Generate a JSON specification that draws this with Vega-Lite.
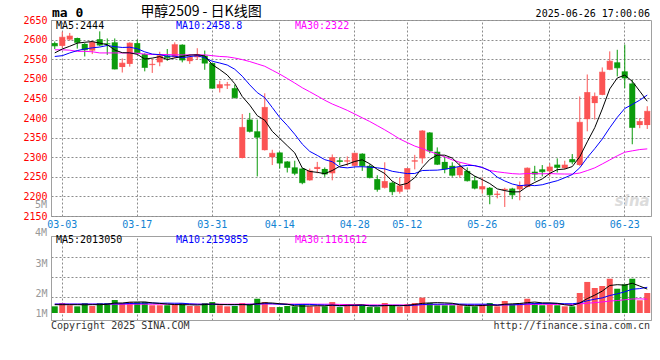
{
  "$schema": "https://vega.github.io/schema/vega-lite/v6.json",
  "background": "#ffffff",
  "autosize": {"type": "pad"},
  "padding": {"left": 22, "top": 4, "right": 10, "bottom": 0},
  "bounds": "flush",
  "spacing": 20,
  "config": {
    "view": {"stroke": "#a0a0a0", "strokeWidth": 1},
    "axis": {"labelFont": "DejaVu Sans Mono", "labelFontSize": 10, "domainColor": "#a0a0a0", "grid": false, "labelOverlap": false, "title": null, "ticks": true, "tickColor": "#8c8c8c", "tickDash": [2, 2], "tickWidth": 1},
    "text": {"font": "DejaVu Sans Mono", "fontSize": 10, "baseline": "middle"}
  },
  "datasets": {
    "k": [
      {"d":"02-28","o":2591,"h":2595,"l":2576,"c":2584,"v":560000,"m5":2566,"m10":2557,"m30":2574,"vm5":700000,"vm10":750000,"vm30":740000},
      {"d":"03-03","o":2584,"h":2620,"l":2579,"c":2606,"v":840000,"m5":2576,"m10":2559,"m30":2574,"vm5":700000,"vm10":750000,"vm30":740000},
      {"d":"03-04","o":2600,"h":2617,"l":2597,"c":2609,"v":650000,"m5":2583,"m10":2566,"m30":2573,"vm5":700000,"vm10":750000,"vm30":740000},
      {"d":"03-05","o":2604,"h":2605,"l":2577,"c":2593,"v":560000,"m5":2591,"m10":2572,"m30":2570,"vm5":700000,"vm10":750000,"vm30":740000},
      {"d":"03-06","o":2589,"h":2591,"l":2557,"c":2574,"v":840000,"m5":2593.2,"m10":2576,"m30":2570,"vm5":690000,"vm10":750000,"vm30":740000},
      {"d":"03-07","o":2572,"h":2596,"l":2563,"c":2593,"v":590000,"m5":2595,"m10":2579,"m30":2569,"vm5":700000,"vm10":750000,"vm30":740000},
      {"d":"03-10","o":2601,"h":2621,"l":2583,"c":2586,"v":840000,"m5":2591,"m10":2581,"m30":2566,"vm5":700000,"vm10":750000,"vm30":740000},
      {"d":"03-11","o":2590,"h":2603,"l":2561,"c":2589,"v":840000,"m5":2587,"m10":2585,"m30":2566,"vm5":730000,"vm10":760000,"vm30":740000},
      {"d":"03-12","o":2593,"h":2603,"l":2524,"c":2525,"v":1090000,"m5":2573.4,"m10":2582,"m30":2566,"vm5":840000,"vm10":770000,"vm30":740000},
      {"d":"03-13","o":2530,"h":2552,"l":2516,"c":2540,"v":840000,"m5":2566.6,"m10":2579.9,"m30":2566,"vm5":840000,"vm10":770000,"vm30":740000},
      {"d":"03-14","o":2538,"h":2593,"l":2531,"c":2591,"v":920000,"m5":2566.2,"m10":2580.6,"m30":2566,"vm5":910000,"vm10":800000,"vm30":740000},
      {"d":"03-17","o":2591,"h":2600,"l":2565,"c":2567,"v":900000,"m5":2562.4,"m10":2576.7,"m30":2565,"vm5":920000,"vm10":810000,"vm30":740000},
      {"d":"03-18","o":2563,"h":2565,"l":2519,"c":2529,"v":920000,"m5":2550.4,"m10":2568.7,"m30":2563,"vm5":930000,"vm10":830000,"vm30":740000},
      {"d":"03-19","o":2535,"h":2551,"l":2515,"c":2537,"v":650000,"m5":2552.8,"m10":2563.1,"m30":2562,"vm5":850000,"vm10":840000,"vm30":740000},
      {"d":"03-20","o":2542,"h":2569,"l":2532,"c":2559,"v":650000,"m5":2556.6,"m10":2561.6,"m30":2562,"vm5":810000,"vm10":820000,"vm30":740000},
      {"d":"03-21","o":2559,"h":2576,"l":2546,"c":2554,"v":650000,"m5":2549.2,"m10":2557.7,"m30":2562,"vm5":750000,"vm10":830000,"vm30":740000},
      {"d":"03-24","o":2555,"h":2593,"l":2553,"c":2587,"v":700000,"m5":2553.2,"m10":2557.8,"m30":2561,"vm5":710000,"vm10":820000,"vm30":740000},
      {"d":"03-25","o":2587,"h":2588,"l":2542,"c":2548,"v":840000,"m5":2557,"m10":2553.7,"m30":2561,"vm5":700000,"vm10":820000,"vm30":740000},
      {"d":"03-26","o":2545,"h":2562,"l":2538,"c":2555,"v":590000,"m5":2560.6,"m10":2556.7,"m30":2561,"vm5":690000,"vm10":770000,"vm30":740000},
      {"d":"03-27","o":2555,"h":2578,"l":2548,"c":2562,"v":590000,"m5":2561.2,"m10":2558.9,"m30":2561,"vm5":670000,"vm10":740000,"vm30":740000},
      {"d":"03-28","o":2559,"h":2572,"l":2523,"c":2540,"v":840000,"m5":2558.4,"m10":2553.8,"m30":2561,"vm5":710000,"vm10":730000,"vm30":740000},
      {"d":"03-31","o":2540,"h":2541,"l":2475,"c":2476,"v":920000,"m5":2536.2,"m10":2544.7,"m30":2559,"vm5":760000,"vm10":740000,"vm30":740000},
      {"d":"04-01","o":2476,"h":2495,"l":2465,"c":2485,"v":650000,"m5":2523.6,"m10":2540.3,"m30":2557,"vm5":720000,"vm10":710000,"vm30":740000},
      {"d":"04-02","o":2483,"h":2492,"l":2474,"c":2485,"v":560000,"m5":2509.6,"m10":2535.1,"m30":2556,"vm5":710000,"vm10":700000,"vm30":740000},
      {"d":"04-03","o":2476,"h":2485,"l":2450,"c":2452,"v":590000,"m5":2487.6,"m10":2524.4,"m30":2553,"vm5":710000,"vm10":690000,"vm30":740000},
      {"d":"04-07","o":2298,"h":2410,"l":2297,"c":2376,"v":840000,"m5":2454.8,"m10":2506.6,"m30":2549,"vm5":710000,"vm10":710000,"vm30":750000},
      {"d":"04-08","o":2396,"h":2413,"l":2363,"c":2366,"v":760000,"m5":2432.8,"m10":2484.5,"m30":2544,"vm5":680000,"vm10":720000,"vm30":750000},
      {"d":"04-09","o":2366,"h":2396,"l":2251,"c":2351,"v":1200000,"m5":2406,"m10":2464.8,"m30":2538,"vm5":790000,"vm10":750000,"vm30":750000},
      {"d":"04-10","o":2318,"h":2463,"l":2317,"c":2427,"v":920000,"m5":2394.4,"m10":2452,"m30":2532,"vm5":860000,"vm10":790000,"vm30":760000},
      {"d":"04-11","o":2300,"h":2319,"l":2280,"c":2310,"v":500000,"m5":2366,"m10":2426.8,"m30":2521.9,"vm5":840000,"vm10":780000,"vm30":760000},
      {"d":"04-14","o":2312,"h":2313,"l":2271,"c":2285,"v":500000,"m5":2347.8,"m10":2401.3,"m30":2511.9,"vm5":780000,"vm10":740000,"vm30":760000},
      {"d":"04-15","o":2289,"h":2290,"l":2261,"c":2274,"v":590000,"m5":2329.4,"m10":2381.1,"m30":2500.8,"vm5":740000,"vm10":710000,"vm30":750000},
      {"d":"04-16","o":2274,"h":2291,"l":2254,"c":2259,"v":560000,"m5":2311,"m10":2358.5,"m30":2489.2,"vm5":610000,"vm10":700000,"vm30":750000},
      {"d":"04-17","o":2271,"h":2272,"l":2231,"c":2235,"v":760000,"m5":2272.6,"m10":2333.5,"m30":2477.2,"vm5":580000,"vm10":720000,"vm30":750000},
      {"d":"04-18","o":2241,"h":2271,"l":2240,"c":2265,"v":560000,"m5":2263.6,"m10":2314.8,"m30":2466.9,"vm5":590000,"vm10":720000,"vm30":750000},
      {"d":"04-21","o":2270,"h":2288,"l":2259,"c":2274,"v":560000,"m5":2261.4,"m10":2304.6,"m30":2456.3,"vm5":610000,"vm10":690000,"vm30":740000},
      {"d":"04-22","o":2270,"h":2274,"l":2250,"c":2257,"v":560000,"m5":2258,"m10":2293.7,"m30":2445.3,"vm5":600000,"vm10":670000,"vm30":740000},
      {"d":"04-23","o":2259,"h":2307,"l":2241,"c":2299,"v":920000,"m5":2266,"m10":2288.5,"m30":2435.7,"vm5":670000,"vm10":640000,"vm30":740000},
      {"d":"04-24","o":2292,"h":2299,"l":2280,"c":2289,"v":500000,"m5":2276.8,"m10":2274.7,"m30":2427.8,"vm5":620000,"vm10":600000,"vm30":720000},
      {"d":"04-25","o":2289,"h":2302,"l":2278,"c":2291,"v":730000,"m5":2282,"m10":2272.8,"m30":2419.5,"vm5":650000,"vm10":620000,"vm30":710000},
      {"d":"04-28","o":2278,"h":2311,"l":2277,"c":2310,"v":590000,"m5":2289.2,"m10":2275.3,"m30":2410.1,"vm5":660000,"vm10":630000,"vm30":700000},
      {"d":"04-29","o":2309,"h":2310,"l":2265,"c":2278,"v":650000,"m5":2293.4,"m10":2275.7,"m30":2400.5,"vm5":680000,"vm10":640000,"vm30":700000},
      {"d":"04-30","o":2278,"h":2282,"l":2246,"c":2248,"v":500000,"m5":2283.2,"m10":2274.6,"m30":2391.1,"vm5":590000,"vm10":630000,"vm30":680000},
      {"d":"05-06","o":2244,"h":2254,"l":2212,"c":2218,"v":500000,"m5":2269,"m10":2272.9,"m30":2380.5,"vm5":590000,"vm10":610000,"vm30":680000},
      {"d":"05-07","o":2222,"h":2287,"l":2220,"c":2238,"v":840000,"m5":2258.4,"m10":2270.2,"m30":2369.8,"vm5":620000,"vm10":640000,"vm30":680000},
      {"d":"05-08","o":2235,"h":2238,"l":2203,"c":2212,"v":650000,"m5":2238.8,"m10":2264,"m30":2358.4,"vm5":630000,"vm10":640000,"vm30":680000},
      {"d":"05-09","o":2212,"h":2248,"l":2207,"c":2227,"v":530000,"m5":2228.6,"m10":2261,"m30":2346.4,"vm5":600000,"vm10":640000,"vm30":680000},
      {"d":"05-12","o":2218,"h":2272,"l":2217,"c":2271,"v":730000,"m5":2233.2,"m10":2258.2,"m30":2337.2,"vm5":650000,"vm10":620000,"vm30":670000},
      {"d":"05-13","o":2289,"h":2306,"l":2269,"c":2291,"v":840000,"m5":2247.8,"m10":2258.4,"m30":2328.4,"vm5":720000,"vm10":660000,"vm30":680000},
      {"d":"05-14","o":2297,"h":2369,"l":2284,"c":2367,"v":1290000,"m5":2273.6,"m10":2266,"m30":2321.9,"vm5":810000,"vm10":710000,"vm30":700000},
      {"d":"05-15","o":2363,"h":2364,"l":2310,"c":2316,"v":840000,"m5":2294.4,"m10":2266.6,"m30":2314.4,"vm5":850000,"vm10":740000,"vm30":700000},
      {"d":"05-16","o":2314,"h":2325,"l":2280,"c":2282,"v":650000,"m5":2305.4,"m10":2267,"m30":2307.9,"vm5":870000,"vm10":740000,"vm30":700000},
      {"d":"05-19","o":2288,"h":2302,"l":2259,"c":2270,"v":650000,"m5":2305.2,"m10":2269.2,"m30":2300.8,"vm5":850000,"vm10":750000,"vm30":700000},
      {"d":"05-20","o":2278,"h":2287,"l":2250,"c":2254,"v":650000,"m5":2297.8,"m10":2272.8,"m30":2293.1,"vm5":820000,"vm10":770000,"vm30":700000},
      {"d":"05-21","o":2254,"h":2287,"l":2248,"c":2274,"v":650000,"m5":2279.2,"m10":2276.4,"m30":2287.1,"vm5":690000,"vm10":750000,"vm30":700000},
      {"d":"05-22","o":2265,"h":2274,"l":2238,"c":2240,"v":560000,"m5":2264,"m10":2279.2,"m30":2282.6,"vm5":630000,"vm10":740000,"vm30":690000},
      {"d":"05-23","o":2241,"h":2252,"l":2218,"c":2221,"v":560000,"m5":2251.8,"m10":2278.6,"m30":2277.8,"vm5":610000,"vm10":740000,"vm30":680000},
      {"d":"05-26","o":2218,"h":2248,"l":2207,"c":2225,"v":730000,"m5":2242.8,"m10":2274,"m30":2273.6,"vm5":630000,"vm10":740000,"vm30":670000},
      {"d":"05-27","o":2222,"h":2224,"l":2180,"c":2204,"v":840000,"m5":2232.8,"m10":2265.3,"m30":2266.1,"vm5":670000,"vm10":740000,"vm30":670000},
      {"d":"05-28","o":2204,"h":2214,"l":2195,"c":2206,"v":560000,"m5":2219.2,"m10":2249.2,"m30":2262.7,"vm5":650000,"vm10":670000,"vm30":670000},
      {"d":"05-29","o":2216,"h":2222,"l":2173,"c":2218,"v":1010000,"m5":2214.8,"m10":2239.4,"m30":2260.4,"vm5":740000,"vm10":690000,"vm30":690000},
      {"d":"05-30","o":2220,"h":2222,"l":2193,"c":2204,"v":730000,"m5":2211.4,"m10":2231.6,"m30":2258.1,"vm5":770000,"vm10":690000,"vm30":690000},
      {"d":"06-03","o":2218,"h":2238,"l":2190,"c":2227,"v":840000,"m5":2211.8,"m10":2227.3,"m30":2257,"vm5":800000,"vm10":710000,"vm30":700000},
      {"d":"06-04","o":2224,"h":2274,"l":2223,"c":2272,"v":1200000,"m5":2225.4,"m10":2229.1,"m30":2258.3,"vm5":870000,"vm10":770000,"vm30":710000},
      {"d":"06-05","o":2263,"h":2278,"l":2240,"c":2257,"v":840000,"m5":2235.6,"m10":2227.4,"m30":2258,"vm5":920000,"vm10":790000,"vm30":720000},
      {"d":"06-06","o":2269,"h":2280,"l":2251,"c":2263,"v":650000,"m5":2244.6,"m10":2229.7,"m30":2257.6,"vm5":850000,"vm10":800000,"vm30":730000},
      {"d":"06-09","o":2264,"h":2284,"l":2251,"c":2275,"v":730000,"m5":2258.8,"m10":2235.1,"m30":2258.2,"vm5":850000,"vm10":810000,"vm30":730000},
      {"d":"06-10","o":2281,"h":2297,"l":2261,"c":2274,"v":650000,"m5":2268.2,"m10":2240,"m30":2257.4,"vm5":810000,"vm10":810000,"vm30":720000},
      {"d":"06-11","o":2272,"h":2291,"l":2269,"c":2280,"v":560000,"m5":2269.8,"m10":2247.6,"m30":2257.1,"vm5":690000,"vm10":780000,"vm30":730000},
      {"d":"06-12","o":2295,"h":2308,"l":2282,"c":2288,"v":560000,"m5":2276,"m10":2255.8,"m30":2257,"vm5":630000,"vm10":780000,"vm30":720000},
      {"d":"06-13","o":2280,"h":2455,"l":2278,"c":2389,"v":1680000,"m5":2301.2,"m10":2272.9,"m30":2259.6,"vm5":840000,"vm10":840000,"vm30":760000},
      {"d":"06-16","o":2397,"h":2511,"l":2366,"c":2465,"v":2610000,"m5":2339.2,"m10":2299,"m30":2265.9,"vm5":1210000,"vm10":1030000,"vm30":820000},
      {"d":"06-17","o":2438,"h":2465,"l":2396,"c":2455,"v":2100000,"m5":2375.4,"m10":2321.8,"m30":2272.8,"vm5":1500000,"vm10":1160000,"vm30":870000},
      {"d":"06-18","o":2459,"h":2529,"l":2458,"c":2517,"v":2270000,"m5":2422.8,"m10":2346.3,"m30":2282.7,"vm5":1840000,"vm10":1270000,"vm30":930000},
      {"d":"06-19","o":2523,"h":2570,"l":2522,"c":2545,"v":2880000,"m5":2474.2,"m10":2375.1,"m30":2293,"vm5":2310000,"vm10":1470000,"vm30":1000000},
      {"d":"06-20","o":2542,"h":2574,"l":2506,"c":2528,"v":2040000,"m5":2502,"m10":2401.6,"m30":2303.5,"vm5":2380000,"vm10":1610000,"vm30":1050000},
      {"d":"06-23","o":2519,"h":2587,"l":2476,"c":2502,"v":2410000,"m5":2509.4,"m10":2424.3,"m30":2312.7,"vm5":2340000,"vm10":1780000,"vm30":1110000},
      {"d":"06-24","o":2488,"h":2497,"l":2333,"c":2376,"v":2880000,"m5":2493.6,"m10":2434.5,"m30":2316.2,"vm5":2500000,"vm10":2000000,"vm30":1180000},
      {"d":"06-25","o":2382,"h":2399,"l":2374,"c":2391,"v":1070000,"m5":2468.4,"m10":2445.6,"m30":2319.5,"vm5":2260000,"vm10":2050000,"vm30":1190000},
      {"d":"06-26","o":2382,"h":2430,"l":2372,"c":2417,"v":1680000,"m5":2442.8,"m10":2458.5,"m30":2321.2,"vm5":2010000,"vm10":2160000,"vm30":1160000}
    ]
  },
  "vconcat": [
    {
      "width": 600,
      "height": 196,
      "data": {"name": "k"},
      "encoding": {
        "x": {"field": "d", "type": "ordinal", "sort": null,
              "scale": {"type": "band", "paddingInner": 0, "paddingOuter": 0},
              "axis": {"title": null, "values": ["03-03","03-17","03-31","04-14","04-28","05-12","05-26","06-09","06-23"], "labelColor": "#1183d3", "labelAngle": 0, "tickSize": -196, "labelPadding": 199, "bandPosition": 0.5}},
        "y": {"field": "l", "type": "quantitative", "scale": {"domain": [2150, 2650], "nice": false, "zero": false},
              "axis": {"title": null, "values": [2150,2200,2250,2300,2350,2400,2450,2500,2550,2600,2650], "format": "d", "labelColor": "#ff0000", "tickSize": -600, "labelPadding": 604}}
      },
      "layer": [
        {"mark": {"type": "rule", "strokeWidth": 1},
         "encoding": {
           "y2": {"field": "h"},
           "color": {"condition": {"test": "datum.c >= datum.o", "value": "#fb5454"}, "value": "#0b9b0b"}}},
        {"mark": {"type": "bar", "width": 6},
         "encoding": {
           "y": {"field": "o", "type": "quantitative", "scale": {"domain": [2150, 2650], "nice": false, "zero": false},
                 "axis": {"title": null, "values": [2150,2200,2250,2300,2350,2400,2450,2500,2550,2600,2650], "format": "d", "labelColor": "#ff0000", "tickSize": -600, "labelPadding": 604}},
           "y2": {"field": "c"},
           "color": {"condition": {"test": "datum.c >= datum.o", "value": "#fb5454"}, "value": "#0b9b0b"}}},
        {"mark": {"type": "tick", "size": 6, "thickness": 1, "orient": "horizontal"},
         "encoding": {
           "y": {"field": "c", "type": "quantitative", "scale": {"domain": [2150, 2650], "nice": false, "zero": false},
                 "axis": {"title": null, "values": [2150,2200,2250,2300,2350,2400,2450,2500,2550,2600,2650], "format": "d", "labelColor": "#ff0000", "tickSize": -600, "labelPadding": 604}},
           "color": {"condition": {"test": "datum.c >= datum.o", "value": "#fb5454"}, "value": "#0b9b0b"}}},
        {"mark": {"type": "line", "color": "#ff00ff", "strokeWidth": 1},
         "encoding": {"y": {"field": "m30", "type": "quantitative", "scale": {"domain": [2150, 2650], "nice": false, "zero": false},
                 "axis": {"title": null, "values": [2150,2200,2250,2300,2350,2400,2450,2500,2550,2600,2650], "format": "d", "labelColor": "#ff0000", "tickSize": -600, "labelPadding": 604}}}},
        {"mark": {"type": "line", "color": "#0000ff", "strokeWidth": 1},
         "encoding": {"y": {"field": "m10", "type": "quantitative", "scale": {"domain": [2150, 2650], "nice": false, "zero": false},
                 "axis": {"title": null, "values": [2150,2200,2250,2300,2350,2400,2450,2500,2550,2600,2650], "format": "d", "labelColor": "#ff0000", "tickSize": -600, "labelPadding": 604}}}},
        {"mark": {"type": "line", "color": "#000000", "strokeWidth": 1},
         "encoding": {"y": {"field": "m5", "type": "quantitative", "scale": {"domain": [2150, 2650], "nice": false, "zero": false},
                 "axis": {"title": null, "values": [2150,2200,2250,2300,2350,2400,2450,2500,2550,2600,2650], "format": "d", "labelColor": "#ff0000", "tickSize": -600, "labelPadding": 604}}}},
        {"transform": [{"filter": "datum.d == '02-28'"}],
         "mark": {"type": "text", "align": "left", "dx": 1, "dy": -7, "fontSize": 13, "fontWeight": "bold", "color": "#000000"},
         "encoding": {"x": {"field": "d", "type": "ordinal", "sort": null, "bandPosition": 0,
                            "axis": {"title": null, "values": ["03-03","03-17","03-31","04-14","04-28","05-12","05-26","06-09","06-23"], "labelColor": "#1183d3", "labelAngle": 0, "tickSize": -196, "labelPadding": 199, "bandPosition": 0.5}},
                      "y": {"datum": 2650, "type": "quantitative", "scale": {"domain": [2150, 2650], "nice": false, "zero": false},
                            "axis": {"title": null, "values": [2150,2200,2250,2300,2350,2400,2450,2500,2550,2600,2650], "format": "d", "labelColor": "#ff0000", "tickSize": -600, "labelPadding": 604}},
                      "text": {"value": "ma 0"}}},
        {"transform": [{"filter": "datum.d == '03-28'"}],
         "mark": {"type": "text", "align": "center", "dy": -8, "font": "Noto Sans CJK SC", "fontSize": 14, "color": "#000000"},
         "encoding": {"x": {"field": "d", "type": "ordinal", "sort": null, "bandPosition": 0,
                            "axis": {"title": null, "values": ["03-03","03-17","03-31","04-14","04-28","05-12","05-26","06-09","06-23"], "labelColor": "#1183d3", "labelAngle": 0, "tickSize": -196, "labelPadding": 199, "bandPosition": 0.5}},
                      "y": {"datum": 2650, "type": "quantitative", "scale": {"domain": [2150, 2650], "nice": false, "zero": false},
                            "axis": {"title": null, "values": [2150,2200,2250,2300,2350,2400,2450,2500,2550,2600,2650], "format": "d", "labelColor": "#ff0000", "tickSize": -600, "labelPadding": 604}},
                      "text": {"value": "甲醇2509 - 日K线图"}}},
        {"transform": [{"filter": "datum.d == '06-26'"}],
         "mark": {"type": "text", "align": "right", "dx": -1, "dy": -6, "color": "#000000"},
         "encoding": {"x": {"field": "d", "type": "ordinal", "sort": null, "bandPosition": 1,
                            "axis": {"title": null, "values": ["03-03","03-17","03-31","04-14","04-28","05-12","05-26","06-09","06-23"], "labelColor": "#1183d3", "labelAngle": 0, "tickSize": -196, "labelPadding": 199, "bandPosition": 0.5}},
                      "y": {"datum": 2650, "type": "quantitative", "scale": {"domain": [2150, 2650], "nice": false, "zero": false},
                            "axis": {"title": null, "values": [2150,2200,2250,2300,2350,2400,2450,2500,2550,2600,2650], "format": "d", "labelColor": "#ff0000", "tickSize": -600, "labelPadding": 604}},
                      "text": {"value": "2025-06-26 17:00:06"}}},
        {"transform": [{"filter": "datum.d == '02-28'"}],
         "mark": {"type": "text", "align": "left", "dx": 5, "dy": 6, "color": "#000000"},
         "encoding": {"x": {"field": "d", "type": "ordinal", "sort": null, "bandPosition": 0,
                            "axis": {"title": null, "values": ["03-03","03-17","03-31","04-14","04-28","05-12","05-26","06-09","06-23"], "labelColor": "#1183d3", "labelAngle": 0, "tickSize": -196, "labelPadding": 199, "bandPosition": 0.5}},
                      "y": {"datum": 2650, "type": "quantitative", "scale": {"domain": [2150, 2650], "nice": false, "zero": false},
                            "axis": {"title": null, "values": [2150,2200,2250,2300,2350,2400,2450,2500,2550,2600,2650], "format": "d", "labelColor": "#ff0000", "tickSize": -600, "labelPadding": 604}},
                      "text": {"value": "MA5:2444"}}},
        {"transform": [{"filter": "datum.d == '02-28'"}],
         "mark": {"type": "text", "align": "left", "dx": 125, "dy": 6, "color": "#0000ff"},
         "encoding": {"x": {"field": "d", "type": "ordinal", "sort": null, "bandPosition": 0,
                            "axis": {"title": null, "values": ["03-03","03-17","03-31","04-14","04-28","05-12","05-26","06-09","06-23"], "labelColor": "#1183d3", "labelAngle": 0, "tickSize": -196, "labelPadding": 199, "bandPosition": 0.5}},
                      "y": {"datum": 2650, "type": "quantitative", "scale": {"domain": [2150, 2650], "nice": false, "zero": false},
                            "axis": {"title": null, "values": [2150,2200,2250,2300,2350,2400,2450,2500,2550,2600,2650], "format": "d", "labelColor": "#ff0000", "tickSize": -600, "labelPadding": 604}},
                      "text": {"value": "MA10:2458.8"}}},
        {"transform": [{"filter": "datum.d == '02-28'"}],
         "mark": {"type": "text", "align": "left", "dx": 244, "dy": 6, "color": "#ff00ff"},
         "encoding": {"x": {"field": "d", "type": "ordinal", "sort": null, "bandPosition": 0,
                            "axis": {"title": null, "values": ["03-03","03-17","03-31","04-14","04-28","05-12","05-26","06-09","06-23"], "labelColor": "#1183d3", "labelAngle": 0, "tickSize": -196, "labelPadding": 199, "bandPosition": 0.5}},
                      "y": {"datum": 2650, "type": "quantitative", "scale": {"domain": [2150, 2650], "nice": false, "zero": false},
                            "axis": {"title": null, "values": [2150,2200,2250,2300,2350,2400,2450,2500,2550,2600,2650], "format": "d", "labelColor": "#ff0000", "tickSize": -600, "labelPadding": 604}},
                      "text": {"value": "MA30:2322"}}},
        {"transform": [{"filter": "datum.d == '06-24'"}],
         "mark": {"type": "text", "align": "center", "font": "DejaVu Sans", "fontSize": 15, "fontWeight": "bold", "fontStyle": "italic", "color": "#dcdcdc"},
         "encoding": {"y": {"datum": 2188, "type": "quantitative", "scale": {"domain": [2150, 2650], "nice": false, "zero": false},
                            "axis": {"title": null, "values": [2150,2200,2250,2300,2350,2400,2450,2500,2550,2600,2650], "format": "d", "labelColor": "#ff0000", "tickSize": -600, "labelPadding": 604}},
                      "text": {"value": "sina"}}}
      ]
    },
    {
      "width": 600,
      "height": 84,
      "data": {"name": "k"},
      "encoding": {
        "x": {"field": "d", "type": "ordinal", "sort": null,
              "scale": {"type": "band", "paddingInner": 0, "paddingOuter": 0},
              "axis": {"title": null, "values": ["03-03","03-17","03-31","04-14","04-28","05-12","05-26","06-09","06-23"], "labels": false, "tickSize": -84, "bandPosition": 0.5}},
        "y": {"field": "v", "type": "quantitative", "scale": {"domain": [-588000, 6470000], "nice": false, "zero": false},
              "axis": {"title": null, "values": [0, 1340000, 1680000, 3030000, 4200000, 4710000], "domain": true, "labelColor": "#999999", "tickSize": -600, "labelPadding": 604,
                       "tickOpacity": {"condition": {"test": "datum.value == 1340000 || datum.value == 3030000 || datum.value == 4710000", "value": 1}, "value": 0},
                       "labelExpr": "datum.value == 4200000 ? '3M' : datum.value == 1680000 ? '2M' : datum.value == 0 ? '1M' : ''"}}
      },
      "layer": [
        {"mark": {"type": "bar", "width": 6},
         "encoding": {
           "y2": {"datum": 0},
           "color": {"condition": {"test": "datum.c >= datum.o", "value": "#fb5454"}, "value": "#0b9b0b"}}},
        {"mark": {"type": "line", "color": "#ff00ff", "strokeWidth": 1},
         "encoding": {"y": {"field": "vm30", "type": "quantitative", "scale": {"domain": [-588000, 6470000], "nice": false, "zero": false},
              "axis": {"title": null, "values": [0, 1340000, 1680000, 3030000, 4200000, 4710000], "domain": true, "labelColor": "#999999", "tickSize": -600, "labelPadding": 604,
                       "tickOpacity": {"condition": {"test": "datum.value == 1340000 || datum.value == 3030000 || datum.value == 4710000", "value": 1}, "value": 0},
                       "labelExpr": "datum.value == 4200000 ? '3M' : datum.value == 1680000 ? '2M' : datum.value == 0 ? '1M' : ''"}}}},
        {"mark": {"type": "line", "color": "#0000ff", "strokeWidth": 1},
         "encoding": {"y": {"field": "vm10", "type": "quantitative", "scale": {"domain": [-588000, 6470000], "nice": false, "zero": false},
              "axis": {"title": null, "values": [0, 1340000, 1680000, 3030000, 4200000, 4710000], "domain": true, "labelColor": "#999999", "tickSize": -600, "labelPadding": 604,
                       "tickOpacity": {"condition": {"test": "datum.value == 1340000 || datum.value == 3030000 || datum.value == 4710000", "value": 1}, "value": 0},
                       "labelExpr": "datum.value == 4200000 ? '3M' : datum.value == 1680000 ? '2M' : datum.value == 0 ? '1M' : ''"}}}},
        {"mark": {"type": "line", "color": "#000000", "strokeWidth": 1},
         "encoding": {"y": {"field": "vm5", "type": "quantitative", "scale": {"domain": [-588000, 6470000], "nice": false, "zero": false},
              "axis": {"title": null, "values": [0, 1340000, 1680000, 3030000, 4200000, 4710000], "domain": true, "labelColor": "#999999", "tickSize": -600, "labelPadding": 604,
                       "tickOpacity": {"condition": {"test": "datum.value == 1340000 || datum.value == 3030000 || datum.value == 4710000", "value": 1}, "value": 0},
                       "labelExpr": "datum.value == 4200000 ? '3M' : datum.value == 1680000 ? '2M' : datum.value == 0 ? '1M' : ''"}}}},
        {"transform": [{"filter": "datum.d == '02-28'"}],
         "mark": {"type": "text", "align": "right", "dx": -4, "color": "#999999"},
         "encoding": {"x": {"field": "d", "type": "ordinal", "sort": null, "bandPosition": 0,
                            "axis": {"title": null, "values": ["03-03","03-17","03-31","04-14","04-28","05-12","05-26","06-09","06-23"], "labels": false, "tickSize": -84, "bandPosition": 0.5}},
                      "y": {"datum": 6720000, "type": "quantitative", "scale": {"domain": [-588000, 6470000], "nice": false, "zero": false},
              "axis": {"title": null, "values": [0, 1340000, 1680000, 3030000, 4200000, 4710000], "domain": true, "labelColor": "#999999", "tickSize": -600, "labelPadding": 604,
                       "tickOpacity": {"condition": {"test": "datum.value == 1340000 || datum.value == 3030000 || datum.value == 4710000", "value": 1}, "value": 0},
                       "labelExpr": "datum.value == 4200000 ? '3M' : datum.value == 1680000 ? '2M' : datum.value == 0 ? '1M' : ''"}},
                      "text": {"value": "4M"}}},
        {"transform": [{"filter": "datum.d == '02-28'"}],
         "mark": {"type": "text", "align": "right", "dx": -4, "dy": 2, "color": "#999999"},
         "encoding": {"x": {"field": "d", "type": "ordinal", "sort": null, "bandPosition": 0,
                            "axis": {"title": null, "values": ["03-03","03-17","03-31","04-14","04-28","05-12","05-26","06-09","06-23"], "labels": false, "tickSize": -84, "bandPosition": 0.5}},
                      "y": {"datum": 9240000, "type": "quantitative", "scale": {"domain": [-588000, 6470000], "nice": false, "zero": false},
              "axis": {"title": null, "values": [0, 1340000, 1680000, 3030000, 4200000, 4710000], "domain": true, "labelColor": "#999999", "tickSize": -600, "labelPadding": 604,
                       "tickOpacity": {"condition": {"test": "datum.value == 1340000 || datum.value == 3030000 || datum.value == 4710000", "value": 1}, "value": 0},
                       "labelExpr": "datum.value == 4200000 ? '3M' : datum.value == 1680000 ? '2M' : datum.value == 0 ? '1M' : ''"}},
                      "text": {"value": "5M"}}},
        {"transform": [{"filter": "datum.d == '02-28'"}],
         "mark": {"type": "text", "align": "left", "dx": 5, "dy": 4, "color": "#000000"},
         "encoding": {"x": {"field": "d", "type": "ordinal", "sort": null, "bandPosition": 0,
                            "axis": {"title": null, "values": ["03-03","03-17","03-31","04-14","04-28","05-12","05-26","06-09","06-23"], "labels": false, "tickSize": -84, "bandPosition": 0.5}},
                      "y": {"datum": 6470000, "type": "quantitative", "scale": {"domain": [-588000, 6470000], "nice": false, "zero": false},
              "axis": {"title": null, "values": [0, 1340000, 1680000, 3030000, 4200000, 4710000], "domain": true, "labelColor": "#999999", "tickSize": -600, "labelPadding": 604,
                       "tickOpacity": {"condition": {"test": "datum.value == 1340000 || datum.value == 3030000 || datum.value == 4710000", "value": 1}, "value": 0},
                       "labelExpr": "datum.value == 4200000 ? '3M' : datum.value == 1680000 ? '2M' : datum.value == 0 ? '1M' : ''"}},
                      "text": {"value": "MA5:2013050"}}},
        {"transform": [{"filter": "datum.d == '02-28'"}],
         "mark": {"type": "text", "align": "left", "dx": 125, "dy": 4, "color": "#0000ff"},
         "encoding": {"x": {"field": "d", "type": "ordinal", "sort": null, "bandPosition": 0,
                            "axis": {"title": null, "values": ["03-03","03-17","03-31","04-14","04-28","05-12","05-26","06-09","06-23"], "labels": false, "tickSize": -84, "bandPosition": 0.5}},
                      "y": {"datum": 6470000, "type": "quantitative", "scale": {"domain": [-588000, 6470000], "nice": false, "zero": false},
              "axis": {"title": null, "values": [0, 1340000, 1680000, 3030000, 4200000, 4710000], "domain": true, "labelColor": "#999999", "tickSize": -600, "labelPadding": 604,
                       "tickOpacity": {"condition": {"test": "datum.value == 1340000 || datum.value == 3030000 || datum.value == 4710000", "value": 1}, "value": 0},
                       "labelExpr": "datum.value == 4200000 ? '3M' : datum.value == 1680000 ? '2M' : datum.value == 0 ? '1M' : ''"}},
                      "text": {"value": "MA10:2159855"}}},
        {"transform": [{"filter": "datum.d == '02-28'"}],
         "mark": {"type": "text", "align": "left", "dx": 244, "dy": 4, "color": "#ff00ff"},
         "encoding": {"x": {"field": "d", "type": "ordinal", "sort": null, "bandPosition": 0,
                            "axis": {"title": null, "values": ["03-03","03-17","03-31","04-14","04-28","05-12","05-26","06-09","06-23"], "labels": false, "tickSize": -84, "bandPosition": 0.5}},
                      "y": {"datum": 6470000, "type": "quantitative", "scale": {"domain": [-588000, 6470000], "nice": false, "zero": false},
              "axis": {"title": null, "values": [0, 1340000, 1680000, 3030000, 4200000, 4710000], "domain": true, "labelColor": "#999999", "tickSize": -600, "labelPadding": 604,
                       "tickOpacity": {"condition": {"test": "datum.value == 1340000 || datum.value == 3030000 || datum.value == 4710000", "value": 1}, "value": 0},
                       "labelExpr": "datum.value == 4200000 ? '3M' : datum.value == 1680000 ? '2M' : datum.value == 0 ? '1M' : ''"}},
                      "text": {"value": "MA30:1161612"}}},
        {"transform": [{"filter": "datum.d == '02-28'"}],
         "mark": {"type": "text", "align": "left", "dx": 0, "dy": 6, "color": "#333333"},
         "encoding": {"x": {"field": "d", "type": "ordinal", "sort": null, "bandPosition": 0,
                            "axis": {"title": null, "values": ["03-03","03-17","03-31","04-14","04-28","05-12","05-26","06-09","06-23"], "labels": false, "tickSize": -84, "bandPosition": 0.5}},
                      "y": {"datum": -588000, "type": "quantitative", "scale": {"domain": [-588000, 6470000], "nice": false, "zero": false},
              "axis": {"title": null, "values": [0, 1340000, 1680000, 3030000, 4200000, 4710000], "domain": true, "labelColor": "#999999", "tickSize": -600, "labelPadding": 604,
                       "tickOpacity": {"condition": {"test": "datum.value == 1340000 || datum.value == 3030000 || datum.value == 4710000", "value": 1}, "value": 0},
                       "labelExpr": "datum.value == 4200000 ? '3M' : datum.value == 1680000 ? '2M' : datum.value == 0 ? '1M' : ''"}},
                      "text": {"value": "Copyright 2025 SINA.COM"}}},
        {"transform": [{"filter": "datum.d == '06-26'"}],
         "mark": {"type": "text", "align": "right", "dx": -1, "dy": 6, "color": "#333333"},
         "encoding": {"x": {"field": "d", "type": "ordinal", "sort": null, "bandPosition": 1,
                            "axis": {"title": null, "values": ["03-03","03-17","03-31","04-14","04-28","05-12","05-26","06-09","06-23"], "labels": false, "tickSize": -84, "bandPosition": 0.5}},
                      "y": {"datum": -588000, "type": "quantitative", "scale": {"domain": [-588000, 6470000], "nice": false, "zero": false},
              "axis": {"title": null, "values": [0, 1340000, 1680000, 3030000, 4200000, 4710000], "domain": true, "labelColor": "#999999", "tickSize": -600, "labelPadding": 604,
                       "tickOpacity": {"condition": {"test": "datum.value == 1340000 || datum.value == 3030000 || datum.value == 4710000", "value": 1}, "value": 0},
                       "labelExpr": "datum.value == 4200000 ? '3M' : datum.value == 1680000 ? '2M' : datum.value == 0 ? '1M' : ''"}},
                      "text": {"value": "http://finance.sina.com.cn"}}}
      ]
    }
  ]
}
